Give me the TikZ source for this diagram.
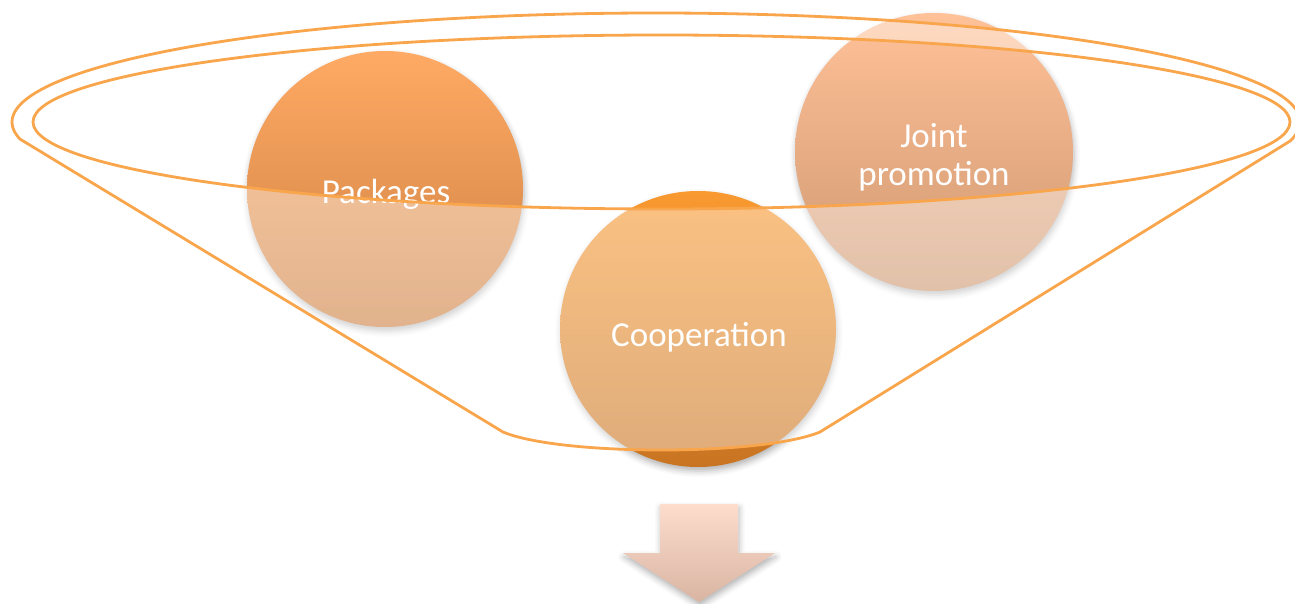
\documentclass[tikz,border=0pt]{standalone}
\usepackage{fontspec}
\setmainfont{Carlito}
\usetikzlibrary{shadows.blur}
\definecolor{rim}{RGB}{249,165,76}
\definecolor{pkTop}{RGB}{255,170,100}
\definecolor{pkBot}{RGB}{205,128,66}
\definecolor{coTop}{RGB}{249,153,48}
\definecolor{coBot}{RGB}{200,116,34}
\definecolor{jpTop}{RGB}{255,193,152}
\definecolor{jpBot}{RGB}{207,152,113}
\definecolor{arTop}{RGB}{253,221,204}
\definecolor{arBot}{RGB}{217,180,163}
\begin{document}
\begin{tikzpicture}[x=1pt,y=1pt,
  txt/.style={text=white,font=\fontsize{35}{38}\selectfont,inner sep=0pt},
  ball/.style={blur shadow={shadow xshift=1pt,shadow yshift=-4pt,shadow blur radius=6pt,shadow opacity=30}},
  rimline/.style={draw=rim,line width=2.8pt,line join=round}]
\useasboundingbox (0,0) rectangle (1295,603);
% circles
\shade[ball, top color=pkTop, bottom color=pkBot] (385,414) circle[radius=138pt];
\shade[ball, top color=jpTop, bottom color=jpBot] (934,451) circle[radius=139pt];
\shade[ball, top color=coTop, bottom color=coBot] (698,274) circle[radius=138pt];
% texts
\node[txt, anchor=base] (packages) at (386,399) {Packages};
\node[txt, anchor=base] (coop) at (699,257) {Cooperation};
\node[txt, anchor=base] (joint) at (934,455) {Joint};
\node[txt, anchor=base] (promo) at (934,417) {promotion};
% funnel
\coordinate (oc) at (656,481);
\path (oc) ++(-10:644pt and 109pt) coordinate (rk);
\coordinate (bl) at (503,171);
\coordinate (br) at (820,171);
\coordinate (ic) at (661.5,481);
\fill[white, fill opacity=0.4, even odd rule]
  (rk) arc[start angle=-10,end angle=189,x radius=644pt,y radius=109pt]
  -- (bl) .. controls (560,147) and (762,147) .. (br) -- cycle
  (ic) ellipse[x radius=628.5pt, y radius=87pt];
\draw[rimline]
  (rk) arc[start angle=-10,end angle=189,x radius=644pt,y radius=109pt]
  -- (bl) .. controls (560,147) and (762,147) .. (br) -- cycle;
\draw[rimline] (ic) ellipse[x radius=628.5pt, y radius=87pt];
% arrow
\shade[ball, top color=arTop, bottom color=arBot]
  (660,99) -- (738,99) -- (738,50) -- (775,50) -- (699,1) -- (623,50) -- (660,50) -- cycle;
\end{tikzpicture}
\end{document}
